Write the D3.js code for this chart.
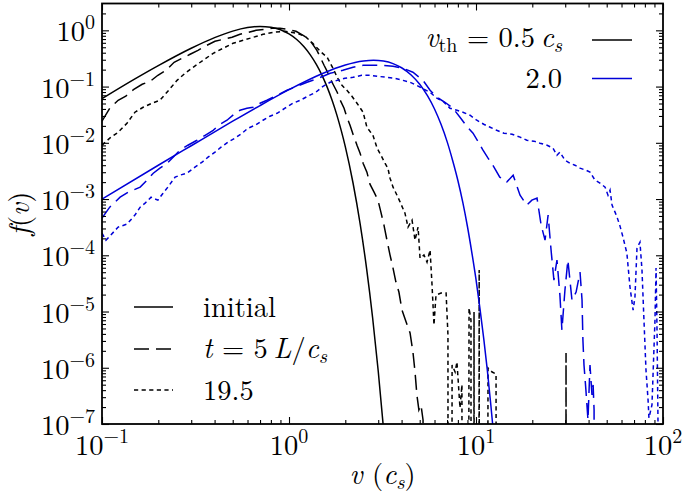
<!DOCTYPE html>
<html>
<head>
<meta charset="utf-8">
<script src="https://cdn.jsdelivr.net/npm/d3@7"></script>
<style>
  body { margin: 0; background: #fff; }
  svg { display: block; }
</style>
</head>
<body>
<svg id="chart" width="683" height="497"></svg>
<script>
// ---- data: [v (c_s), f(v)]; 0 = empty bin ----
const initialSlow = [[0.1,0.061],[0.15,0.137],[0.2,0.236],[0.3,0.48],[0.4,0.742],[0.5,0.968],[0.6,1.119],[0.7,1.174],
  [0.8,1.136],[0.9,1.023],[1.0,0.864],[1.1,0.687],[1.2,0.516],[1.3,0.367],[1.4,0.248],[1.5,0.16],[1.6,0.0977],
  [1.7,0.057],[1.8,0.0317],[1.9,0.0168],[2.0,8.57e-3],[2.2,1.93e-3],[2.4,3.65e-4],[2.6,5.8e-5],[2.8,7.75e-6],
  [3.0,8.75e-7],[3.2,8.4e-8]];
const initialFast = [[0.1,1.0e-3],[0.2,3.99e-3],[0.3,8.87e-3],[0.5,0.0242],[0.7,0.046],[1.0,0.088],[1.5,0.169],
  [2.0,0.242],[2.5,0.285],[2.83,0.294],[3.2,0.284],[3.6,0.256],[4.0,0.216],[4.5,0.161],[5.0,0.11],[5.5,0.0689],
  [6.0,0.0399],[6.5,0.0213],[7.0,0.0106],[7.5,4.86e-3],[8.0,2.14e-3],[8.5,8.72e-4],[9.0,3.25e-4],[9.5,1.12e-4],
  [10,3.72e-5],[10.5,1.13e-5],[11,3.3e-6],[11.5,9.0e-7],[12,2.2e-7],[12.3,9.2e-8]];
const t5Slow = [[0.1,0.0242],[0.11,0.0412],[0.122,0.0571],[0.134,0.0673],[0.148,0.0896],[0.164,0.11],[0.181,0.124],
  [0.199,0.159],[0.22,0.195],[0.243,0.27],[0.268,0.318],[0.296,0.375],[0.326,0.441],[0.364,0.542],[0.402,0.638],
  [0.444,0.692],[0.496,0.751],[0.547,0.849],[0.604,0.921],[0.667,1.0],[0.735,1.04],[0.811,1.09],[0.895,1.09],
  [0.988,1.04],[1.09,0.96],[1.19,0.815],[1.28,0.692],[1.34,0.564],[1.41,0.441],[1.47,0.331],[1.54,0.239],
  [1.6,0.187],[1.66,0.14],[1.72,0.11],[1.81,0.0792],[1.88,0.0571],[1.97,0.0412],[2.04,0.0285],[2.12,0.0205],
  [2.2,0.0142],[2.31,9.06e-3],[2.4,6.53e-3],[2.49,4.34e-3],[2.61,3.01e-3],[2.71,1.84e-3],[2.85,1.33e-3],
  [2.99,9.55e-4],[3.1,5.85e-4],[3.22,3.44e-4],[3.34,1.86e-4],[3.47,1.01e-4],[3.6,5.93e-5],[3.73,3.34e-5],
  [3.87,2.22e-5],[4.02,1.06e-5],[4.23,6.5e-6],[4.44,4.15e-6],[4.6,1.91e-6],[4.72,8.42e-7],[4.83,3.29e-7],
  [4.95,1.78e-7],[5.08,2.18e-7],[5.21,1.18e-7],[5.34,0],[29.6,0],[30.3,1.83e-6],[31.0,0]];
const t5Fast = [[0.1,4.58e-4],[0.11,7.18e-4],[0.125,1.08e-3],[0.138,1.33e-3],[0.147,1.44e-3],[0.16,1.63e-3],
  [0.174,2.17e-3],[0.188,2.88e-3],[0.204,3.54e-3],[0.223,4.34e-3],[0.243,5.78e-3],[0.261,7.39e-3],[0.288,9.06e-3],
  [0.322,0.0111],[0.356,0.0136],[0.393,0.0167],[0.428,0.0214],[0.466,0.0252],[0.508,0.0322],[0.547,0.0379],
  [0.596,0.0412],[0.642,0.0429],[0.7,0.0505],[0.762,0.0571],[0.863,0.07],[0.975,0.0859],[1.1,0.101],[1.25,0.119],
  [1.43,0.14],[1.66,0.172],[1.94,0.195],[2.2,0.22],[2.49,0.239],[2.81,0.239],[3.18,0.239],[3.6,0.23],[4.07,0.211],
  [4.6,0.18],[5.21,0.129],[5.68,0.0859],[6.18,0.0646],[6.82,0.0526],[7.53,0.0412],[8.21,0.0285],[8.84,0.0205],
  [9.64,0.0148],[10.3,0.0103],[10.9,7.39e-3],[11.6,5.33e-3],[12.3,4.0e-3],[13.4,2.45e-3],[14.6,2.0e-3],
  [15.8,2.66e-3],[17.2,1.17e-3],[18.7,7.79e-4],[19.9,9.55e-4],[21.2,1.04e-3],[22.3,3.44e-4],[23.4,1.86e-4],
  [24.3,5.18e-4],[25.2,1.24e-4],[26.1,3.62e-5],[27.1,8.22e-5],[28.1,1.96e-5],[28.8,4.69e-6],[29.9,2.41e-5],
  [31.0,8.22e-5],[32.6,1.6e-5],[34.3,2.22e-5],[36.0,5.03e-5],[36.9,1.6e-5],[37.3,3.12e-6],[37.8,1.12e-6],
  [38.7,4.04e-7],[39.7,1.18e-7],[40.7,1.12e-6],[41.7,3.29e-7],[42.3,4.95e-7],[42.8,1.78e-7],[43.3,0]];
const t195Slow = [[0.1,9.06e-3],[0.11,0.0121],[0.122,0.0154],[0.136,0.0223],[0.15,0.035],[0.166,0.0429],
  [0.185,0.0505],[0.204,0.0571],[0.225,0.0826],[0.252,0.129],[0.278,0.172],[0.307,0.22],[0.347,0.293],
  [0.393,0.39],[0.444,0.479],[0.502,0.588],[0.568,0.664],[0.642,0.751],[0.726,0.849],[0.821,0.921],[0.952,0.96],
  [1.1,0.885],[1.22,0.782],[1.34,0.588],[1.47,0.424],[1.6,0.331],[1.72,0.211],[1.81,0.146],[1.92,0.105],
  [2.04,0.0859],[2.17,0.0673],[2.31,0.0505],[2.49,0.035],[2.61,0.0189],[2.81,0.0136],[2.96,8.02e-3],
  [3.14,5.55e-3],[3.26,4.34e-3],[3.38,3.54e-3],[3.47,2.35e-3],[3.6,1.63e-3],[3.78,1.17e-3],[3.93,8.81e-4],
  [4.17,5.62e-4],[4.33,3.17e-4],[4.55,4.22e-4],[4.72,1.86e-4],[4.9,3.17e-4],[5.02,8.91e-5],[5.27,1.01e-4],
  [5.47,7.57e-5],[5.68,1.24e-4],[5.82,2.96e-5],[5.96,5.75e-6],[6.11,1.96e-5],[6.5,2.13e-5],[6.92,2.13e-5],
  [7.08,3.83e-6],[7.18,0],[7.45,1.12e-6],[7.73,8.42e-7],[7.91,1.27e-6],[8.21,1.93e-7],[8.41,4.95e-7],[8.63,0],
  [9.18,1.15e-5],[9.4,7.06e-6],[9.52,0],[9.76,9.8e-6],[10.0,0],[10.4,5.46e-5],[10.6,0],[11.6,9.9e-7],
  [12.2,8.4e-7],[12.8,7.76e-7],[13.1,0]];
const t195Fast = [[0.1,2.48e-4],[0.105,1.86e-4],[0.11,2.19e-4],[0.122,3.17e-4],[0.136,3.58e-4],[0.15,5.18e-4],
  [0.16,7.18e-4],[0.17,8.45e-4],[0.183,1.08e-3],[0.199,9.55e-4],[0.212,1.27e-3],[0.225,1.63e-3],[0.246,2.45e-3],
  [0.261,2.66e-3],[0.285,2.88e-3],[0.314,3.69e-3],[0.343,4.52e-3],[0.369,5.55e-3],[0.402,6.81e-3],[0.433,8.35e-3],
  [0.472,0.0103],[0.514,0.0121],[0.561,0.0148],[0.604,0.0182],[0.658,0.0205],[0.726,0.0252],[0.791,0.0297],
  [0.863,0.0335],[0.952,0.0412],[1.05,0.0505],[1.15,0.0571],[1.26,0.0673],[1.39,0.0792],[1.52,0.101],
  [1.66,0.119],[1.81,0.129],[1.99,0.14],[2.2,0.146],[2.45,0.159],[2.71,0.159],[2.99,0.152],[3.34,0.146],
  [3.69,0.14],[4.07,0.129],[4.44,0.119],[4.83,0.105],[5.27,0.0896],[5.68,0.0792],[6.18,0.062],[6.66,0.0548],
  [7.26,0.0412],[7.91,0.0379],[8.51,0.035],[9.29,0.0309],[10.1,0.0252],[11.0,0.0214],[11.9,0.0189],[12.9,0.0167],
  [14.1,0.0148],[15.6,0.0142],[17.2,0.0126],[18.7,0.0111],[20.4,0.0107],[22.0,9.84e-3],[24.0,9.06e-3],
  [25.8,8.02e-3],[27.1,6.02e-3],[28.1,6.81e-3],[29.9,4.91e-3],[31.8,4.34e-3],[33.8,4.0e-3],[36.0,3.54e-3],
  [38.7,3.26e-3],[40.7,3.01e-3],[43.3,2.17e-3],[46.0,1.92e-3],[49.0,1.63e-3],[50.8,1.17e-3],[52.1,1.44e-3],
  [53.4,7.79e-4],[55.4,5.85e-4],[56.8,4.77e-4],[58.9,3.3e-4],[61.1,2.1e-4],[64.1,1.09e-4],[66.6,2.72e-5],
  [69.2,1.06e-5],[70.8,1.81e-5],[72.6,1.34e-4],[75.3,1.71e-4],[77.2,5.46e-5],[79.1,7.06e-6],[81.1,9.14e-7],
  [83.2,2.68e-7],[84.1,1.28e-7],[87.3,2.18e-7],[90.6,7.06e-6],[91.8,5.93e-5],[92.9,4.69e-6],[94.0,1.18e-7],
  [95.2,0]];

const xMajor = [0.1, 1, 10, 100];
const xExp = ["\u22121", "0", "1", "2"];
const yMajor = [1, 1e-1, 1e-2, 1e-3, 1e-4, 1e-5, 1e-6, 1e-7];
const yExp = ["0", "\u22121", "\u22122", "\u22123", "\u22124", "\u22125", "\u22126", "\u22127"];
const vthLabels = ["0.5", "2.0"];
const timeLabels = ["initial", "t = 5 L/c_s", "19.5"];

// ---- layout ----
const svg = d3.select("#chart");
const L = 102, R = 663, T = 3.5, B = 424;
const x = d3.scaleLog().domain([0.1, 100]).range([L, R]);
const y = d3.scaleLog().domain([1e-7, 3]).range([B, T]);
const blue = "#0000d8";
const dashes = { solid: null, dash: "15,7", dot: "4.2,3.4" };
const FS = 28.5, SUB = 20, THIN = "\u2009";

svg.append("defs").append("clipPath").attr("id", "plotclip")
  .append("rect").attr("x", L).attr("y", T).attr("width", R - L).attr("height", B - T);

// zero bins are clipped like matplotlib does on a log axis
const line = d3.line().x(d => x(d[0])).y(d => y(Math.max(d[1], 1e-60)));
const smooth = d3.line().x(d => x(d[0])).y(d => y(d[1])).curve(d3.curveMonotoneX);

const curves = svg.append("g").attr("clip-path", "url(#plotclip)");
const series = [
  { data: t195Slow, color: "#000", style: "dot", gen: line },
  { data: t5Slow, color: "#000", style: "dash", gen: line },
  { data: initialSlow, color: "#000", style: "solid", gen: smooth },
  { data: t195Fast, color: blue, style: "dot", gen: line },
  { data: t5Fast, color: blue, style: "dash", gen: line },
  { data: initialFast, color: blue, style: "solid", gen: smooth }
];
curves.selectAll("path").data(series).join("path")
  .attr("d", d => d.gen(d.data))
  .attr("fill", "none")
  .attr("stroke", d => d.color)
  .attr("stroke-width", 1.5)
  .attr("stroke-dasharray", d => dashes[d.style]);

// ---- ticks (inward on all four sides) ----
function minors(domain) {
  const out = [];
  const lo = Math.floor(Math.log10(domain[0])), hi = Math.ceil(Math.log10(domain[1]));
  for (let e = lo; e < hi; e++) for (let k = 2; k <= 9; k++) {
    const v = k * Math.pow(10, e);
    if (v > domain[0] && v < domain[1] * 0.999) out.push(v);
  }
  return out;
}
const xMinor = minors(x.domain()), yMinor = minors(y.domain());
const axes = svg.append("g");
function addAxis(maker, scale, values, size, tr) {
  axes.append("g").attr("transform", tr)
    .call(maker(scale).tickValues(values).tickSize(-size).tickFormat(""))
    .call(g => g.select(".domain").remove())
    .selectAll("line").attr("stroke", "#000").attr("stroke-width", 1.1);
}
[[xMajor, 7], [xMinor, 4]].forEach(([vals, s]) => {
  addAxis(d3.axisBottom, x, vals, s, `translate(0,${B})`);
  addAxis(d3.axisTop, x, vals, s, `translate(0,${T})`);
});
[[yMajor, 7], [yMinor, 4]].forEach(([vals, s]) => {
  addAxis(d3.axisLeft, y, vals, s, `translate(${L},0)`);
  addAxis(d3.axisRight, y, vals, s, `translate(${R},0)`);
});
svg.append("rect").attr("x", L).attr("y", T).attr("width", R - L).attr("height", B - T)
  .attr("fill", "none").attr("stroke", "#000").attr("stroke-width", 1.8);

// ---- tick labels 10^n ----
function power(sel, exp) {
  sel.append("tspan").text("10");
  sel.append("tspan").attr("dy", -12).attr("font-size", SUB).text(exp);
}
svg.append("g").selectAll("text").data(xMajor).join("text")
  .attr("x", d => x(d)).attr("y", B + 31).attr("text-anchor", "middle").attr("font-size", FS)
  .each(function (d, i) { power(d3.select(this), xExp[i]); });
svg.append("g").selectAll("text").data(yMajor).join("text")
  .attr("x", L - 7).attr("y", d => y(d) + 11).attr("text-anchor", "end").attr("font-size", FS)
  .each(function (d, i) { power(d3.select(this), yExp[i]); });

// ---- axis titles ----
const xt = svg.append("text").attr("x", (L + R) / 2).attr("y", 484).attr("text-anchor", "middle").attr("font-size", FS);
xt.append("tspan").attr("font-style", "italic").text("v");
xt.append("tspan").text(" (");
xt.append("tspan").attr("font-style", "italic").text("c");
xt.append("tspan").attr("font-style", "italic").attr("font-size", SUB).attr("dy", 5).text("s");
xt.append("tspan").attr("dy", -5).text(")");

const yt = svg.append("text").attr("transform", `translate(29,${(T + B) / 2}) rotate(-90)`)
  .attr("text-anchor", "middle").attr("font-size", FS);
yt.append("tspan").attr("font-style", "italic").text("f");
yt.append("tspan").text("(");
yt.append("tspan").attr("font-style", "italic").text("v");
yt.append("tspan").text(")");

// ---- legend: thermal speed (colour) ----
const lg1 = svg.append("g");
const l1 = lg1.append("text").attr("x", 562).attr("y", 47).attr("text-anchor", "end").attr("font-size", FS);
l1.append("tspan").attr("font-style", "italic").text("v");
l1.append("tspan").attr("font-size", SUB).attr("dy", 5).text("th");
l1.append("tspan").attr("dy", -5).text(" = " + vthLabels[0] + THIN);
l1.append("tspan").attr("font-style", "italic").text("c");
l1.append("tspan").attr("font-style", "italic").attr("font-size", SUB).attr("dy", 5).text("s");
lg1.append("text").attr("x", 562).attr("y", 88).attr("text-anchor", "end").attr("font-size", FS).text(vthLabels[1]);
lg1.selectAll("line").data(["#000", blue]).join("line")
  .attr("x1", 592).attr("x2", 632).attr("y1", (d, i) => 40 + i * 38.5).attr("y2", (d, i) => 40 + i * 38.5)
  .attr("stroke", d => d).attr("stroke-width", 1.5);

// ---- legend: time (line style) ----
const lg2 = svg.append("g");
const rows = [307, 349, 390];
lg2.selectAll("line").data(["solid", "dash", "dot"]).join("line")
  .attr("x1", 134).attr("x2", 173).attr("y1", (d, i) => rows[i]).attr("y2", (d, i) => rows[i])
  .attr("stroke", "#000").attr("stroke-width", 1.5).attr("stroke-dasharray", d => dashes[d]);
lg2.append("text").attr("x", 203).attr("y", 317).attr("font-size", FS).text(timeLabels[0]);
const l2 = lg2.append("text").attr("x", 203).attr("y", 358).attr("font-size", FS);
l2.append("tspan").attr("font-style", "italic").text("t");
l2.append("tspan").text(" = 5" + THIN);
l2.append("tspan").attr("font-style", "italic").text("L");
l2.append("tspan").text("/");
l2.append("tspan").attr("font-style", "italic").text("c");
l2.append("tspan").attr("font-style", "italic").attr("font-size", SUB).attr("dy", 5).text("s");
lg2.append("text").attr("x", 203).attr("y", 400).attr("font-size", FS).text(timeLabels[2]);

svg.selectAll("text").style("font-family", "'Latin Modern Roman'").attr("fill", "#000");
</script>
</body>
</html>
